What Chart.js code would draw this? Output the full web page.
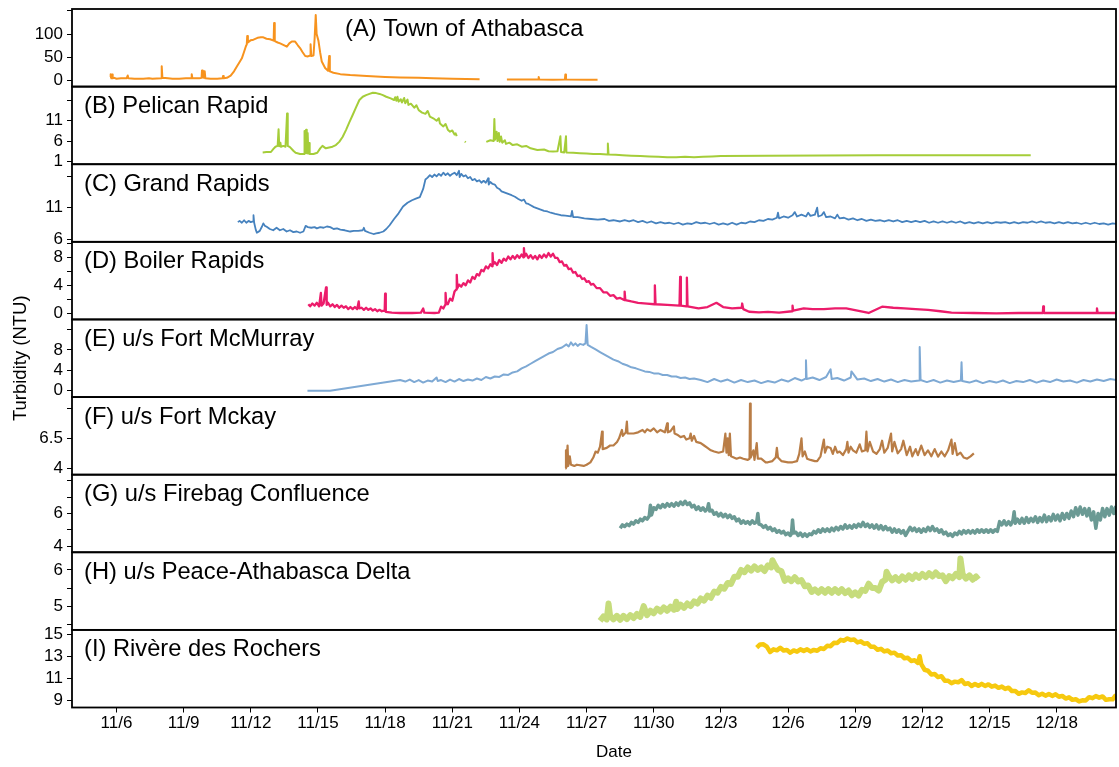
<!DOCTYPE html>
<html><head><meta charset="utf-8">
<script src="https://cdn.jsdelivr.net/npm/chart.js@4.4.1/dist/chart.umd.min.js"></script>
<style>html,body{margin:0;padding:0;background:#fff;}canvas{display:block;}</style>
</head><body>
<canvas id="c" width="1119" height="767"></canvas>
<script>
// x values: day counted from Oct 31 (Nov d = d, Dec d = 30 + d)
const dateTicks = [6,9,12,15,18,21,24,27,30,33,36,39,42,45,48];
const dateLabels = ['11/6','11/9','11/12','11/15','11/18','11/21','11/24','11/27','11/30','12/3','12/6','12/9','12/12','12/15','12/18'];

const panelNames = ['(A) Town of Athabasca','(B) Pelican Rapid','(C) Grand Rapids','(D) Boiler Rapids','(E) u/s Fort McMurray','(F) u/s Fort Mckay','(G) u/s Firebag Confluence','(H) u/s Peace-Athabasca Delta','(I) Rivère des Rochers'];

const ticksA = [0,50,100,150];   const labelsA = ['0','50','100',''];
const ticksB = [1,6,11,16];      const labelsB = ['1','6','11',''];
const ticksC = [6,11,16];        const labelsC = ['6','11',''];
const ticksD = [0,2,4,6,8,10];   const labelsD = ['0','','4','','8',''];
const ticksE = [0,4,8,12];       const labelsE = ['0','4','8',''];
const ticksF = [4,6.5,9];        const labelsF = ['4','6.5',''];
const ticksG = [4,5,6,7,8];      const labelsG = ['4','','6','',''];
const ticksH = [4.5,5,5.5,6];    const labelsH = ['','5','','6'];
const ticksI = [9,11,13,15];     const labelsI = ['9','11','13','15'];

const athabasca = [[5.71,8],[5.74,14],[5.77,5],[5.8,13],[5.83,5],[5.9,6],[6.0,4],[6.2,5],[6.45,5],[6.5,11],[6.53,5],[6.8,4],[7.2,4],[7.45,5],[7.6,4],[8.0,5],[8.02,31],[8.05,6],[8.3,5],[8.5,4],[8.8,4],[9.1,5],[9.34,5],[9.36,14],[9.39,5],[9.7,5],[9.8,6],[9.82,22],[9.85,7],[9.88,21],[9.91,6],[9.94,20],[9.97,5],[10.2,4],[10.5,4],[10.74,5],[10.76,10],[10.79,5],[10.93,6],[11.1,11],[11.25,20],[11.37,30],[11.5,40],[11.6,48],[11.7,62],[11.78,74],[11.82,78],[11.84,96],[11.87,82],[12.0,87],[12.12,88],[12.3,92],[12.45,93],[12.56,93],[12.7,90],[12.86,89],[13.02,86],[13.04,124],[13.07,85],[13.2,82],[13.31,80],[13.45,77],[13.61,73],[13.72,80],[13.83,84],[13.98,84],[14.1,76],[14.2,70],[14.3,62],[14.43,53],[14.55,52],[14.65,54],[14.67,78],[14.7,53],[14.8,54],[14.85,90],[14.9,141],[14.94,100],[15.02,86],[15.1,60],[15.17,41],[15.32,27],[15.45,21],[15.48,21],[15.5,53],[15.53,20],[15.69,17],[16.0,14],[16.44,12],[17.18,10],[18.0,8],[18.67,7],[19.5,6],[20.15,5],[21.0,4],[22.22,3],[22.5,null],[23.44,2.5],[24.0,2.5],[24.84,2.5],[24.86,8],[24.89,2.5],[25.5,2],[26.03,2.5],[26.05,13],[26.08,2.5],[27.0,2],[27.49,2]];

const pelican = [[12.53,3.2],[12.7,3.3],[12.9,3.3],[13.0,4.0],[13.1,4.6],[13.2,4.8],[13.24,8.9],[13.27,4.7],[13.32,5.6],[13.35,4.6],[13.45,4.8],[13.55,4.6],[13.62,12.8],[13.65,4.8],[13.75,4.5],[13.9,3.6],[14.0,3.1],[14.2,2.8],[14.38,2.8],[14.4,8.5],[14.43,3.0],[14.47,8.8],[14.5,3.0],[14.54,8.0],[14.57,2.9],[14.6,5.5],[14.63,2.8],[14.8,2.8],[14.97,3.1],[15.1,4.2],[15.2,4.8],[15.35,4.2],[15.5,4.4],[15.65,4.6],[15.8,5.0],[15.95,5.8],[16.1,7.0],[16.25,8.7],[16.4,10.6],[16.55,12.4],[16.7,14.3],[16.85,16.1],[17.0,16.9],[17.15,17.3],[17.3,17.6],[17.45,17.9],[17.6,17.8],[17.75,17.6],[17.9,17.3],[18.05,16.9],[18.25,16.5],[18.4,16.1],[18.45,16.8],[18.5,15.9],[18.55,16.9],[18.6,15.7],[18.7,16.3],[18.75,15.5],[18.85,16.6],[18.9,15.3],[19.0,16.2],[19.04,14.9],[19.15,15.2],[19.3,14.2],[19.4,14.8],[19.5,13.6],[19.65,13.0],[19.8,12.7],[19.9,13.4],[20.0,12.0],[20.15,11.6],[20.3,11.0],[20.4,11.6],[20.45,10.3],[20.6,9.6],[20.7,10.2],[20.8,8.8],[20.9,8.3],[21.0,8.6],[21.1,7.6],[21.15,7.9],[21.2,7.2],[21.3,null],[21.56,5.9],[21.6,5.7],[21.7,null],[22.52,5.8],[22.7,6.2],[22.85,6.0],[22.88,11.4],[22.91,6.3],[22.98,8.3],[23.02,6.0],[23.08,8.0],[23.12,5.8],[23.18,7.1],[23.23,5.6],[23.35,6.2],[23.4,5.3],[23.55,5.6],[23.7,5.0],[23.9,5.2],[24.1,4.6],[24.3,4.8],[24.5,4.2],[24.8,3.8],[25.1,3.9],[25.3,3.5],[25.5,3.4],[25.7,3.5],[25.83,7.2],[25.86,3.3],[26.0,3.2],[26.08,7.2],[26.1,3.2],[26.4,3.1],[26.7,3.0],[27.0,2.9],[27.3,2.8],[27.6,2.8],[27.93,2.7],[27.95,5.4],[27.98,2.7],[28.3,2.6],[28.6,2.5],[29.0,2.4],[29.4,2.3],[29.8,2.2],[30.2,2.1],[30.6,2.0],[31.0,2.0],[31.4,2.1],[31.8,2.0],[32.2,2.1],[32.6,2.2],[33.0,2.3],[35.0,2.4],[40.0,2.5],[46.84,2.5]];

const grandRapids = [[11.42,8.7],[11.5,8.9],[11.6,8.6],[11.7,9.0],[11.8,8.6],[11.9,8.9],[12.0,8.7],[12.1,8.8],[12.12,9.8],[12.15,8.6],[12.22,7.5],[12.27,7.0],[12.4,7.3],[12.5,8.0],[12.56,8.5],[12.63,8.1],[12.71,7.96],[12.85,7.6],[13.0,7.4],[13.15,7.8],[13.3,7.4],[13.45,7.6],[13.6,7.2],[13.75,7.4],[13.9,7.1],[14.05,7.2],[14.2,7.0],[14.35,7.2],[14.45,8.1],[14.55,7.9],[14.7,7.8],[14.85,7.9],[14.95,7.7],[15.1,7.9],[15.25,7.8],[15.4,8.0],[15.55,7.9],[15.7,7.6],[15.85,7.7],[16.0,7.5],[16.2,7.4],[16.44,7.2],[16.6,7.3],[16.8,7.3],[17.0,7.4],[17.05,7.8],[17.1,7.3],[17.3,7.0],[17.48,6.8],[17.6,6.9],[17.75,7.0],[17.92,7.2],[18.05,7.6],[18.2,8.2],[18.4,9.2],[18.6,10.1],[18.8,11.2],[19.0,11.8],[19.2,12.2],[19.4,12.5],[19.55,12.7],[19.7,14.0],[19.8,15.5],[19.9,15.8],[20.0,16.2],[20.1,15.9],[20.2,16.3],[20.3,16.0],[20.4,16.4],[20.5,16.1],[20.6,16.6],[20.7,16.2],[20.8,16.5],[20.9,16.1],[21.0,16.4],[21.1,16.6],[21.2,16.2],[21.3,16.9],[21.33,15.9],[21.4,16.4],[21.5,16.0],[21.6,16.2],[21.7,15.7],[21.8,15.9],[21.9,15.4],[22.0,15.6],[22.1,15.2],[22.2,15.4],[22.3,15.0],[22.4,15.3],[22.5,15.0],[22.6,15.7],[22.63,14.7],[22.7,15.1],[22.8,14.8],[22.9,14.7],[23.0,14.2],[23.1,14.0],[23.2,13.6],[23.35,13.4],[23.5,13.2],[23.65,13.0],[23.8,12.75],[23.95,12.4],[24.1,12.1],[24.2,12.3],[24.3,11.7],[24.4,11.6],[24.5,11.4],[24.65,11.1],[24.8,10.9],[24.95,10.7],[25.1,10.5],[25.25,10.4],[25.4,10.2],[25.6,10.0],[25.85,9.8],[26.05,9.75],[26.3,9.6],[26.35,10.5],[26.4,9.5],[26.6,9.5],[26.9,9.3],[27.2,9.2],[27.5,9.1],[27.8,9.2],[28.0,8.9],[28.2,9.0],[28.5,8.8],[28.7,9.0],[28.9,8.8],[29.1,9.0],[29.3,8.7],[29.5,8.9],[29.7,8.6],[29.9,8.8],[30.1,8.5],[30.3,8.7],[30.5,8.5],[30.7,8.6],[30.9,8.4],[31.1,8.6],[31.3,8.3],[31.5,8.5],[31.7,8.4],[31.9,8.7],[32.1,8.5],[32.3,8.6],[32.5,8.4],[32.7,8.6],[32.9,8.3],[33.1,8.5],[33.3,8.3],[33.5,8.6],[33.7,8.3],[33.9,8.6],[34.1,8.5],[34.3,8.8],[34.5,8.7],[34.7,9.0],[34.9,8.9],[35.1,9.2],[35.3,9.1],[35.5,9.4],[35.55,10.2],[35.6,9.3],[35.8,9.6],[36.0,9.4],[36.2,9.8],[36.3,10.3],[36.4,9.6],[36.6,9.9],[36.8,9.6],[36.9,10.2],[37.0,9.7],[37.2,9.9],[37.3,11.0],[37.35,9.6],[37.5,9.8],[37.6,10.3],[37.7,9.5],[37.9,9.6],[38.1,9.3],[38.2,9.9],[38.3,9.3],[38.5,9.4],[38.7,9.1],[38.9,9.3],[39.1,9.0],[39.3,9.2],[39.5,8.9],[39.7,9.1],[39.9,8.9],[40.1,9.0],[40.3,8.8],[40.5,9.0],[40.7,8.8],[40.9,9.0],[41.1,8.7],[41.3,8.9],[41.5,8.7],[41.7,8.9],[41.9,8.7],[42.1,8.9],[42.3,8.6],[42.5,8.8],[42.7,8.6],[42.9,8.8],[43.1,8.6],[43.3,8.8],[43.5,8.6],[43.7,8.8],[43.9,8.5],[44.1,8.7],[44.3,8.5],[44.5,8.7],[44.7,8.5],[44.9,8.7],[45.1,8.5],[45.3,8.7],[45.5,8.6],[45.7,8.7],[45.9,8.5],[46.1,8.7],[46.3,8.5],[46.5,8.7],[46.7,8.6],[46.9,8.8],[47.1,8.6],[47.3,8.8],[47.5,8.6],[47.7,8.7],[47.9,8.5],[48.1,8.7],[48.3,8.5],[48.5,8.7],[48.7,8.5],[48.9,8.6],[49.1,8.4],[49.3,8.6],[49.5,8.4],[49.7,8.6],[49.9,8.4],[50.1,8.5],[50.3,8.3],[50.5,8.5],[50.68,8.4]];

const boiler = [[14.57,1.3],[14.65,1.0],[14.75,1.4],[14.85,1.1],[14.95,1.5],[15.05,1.0],[15.13,2.9],[15.16,1.1],[15.25,1.4],[15.36,3.7],[15.39,1.2],[15.45,1.5],[15.55,1.0],[15.65,1.3],[15.75,0.9],[15.85,1.2],[15.95,0.8],[16.05,1.1],[16.15,0.8],[16.25,1.0],[16.35,0.6],[16.45,0.9],[16.55,0.6],[16.65,0.9],[16.75,0.6],[16.82,1.7],[16.85,0.7],[16.95,0.8],[17.05,0.5],[17.15,0.8],[17.25,0.5],[17.35,0.7],[17.45,0.4],[17.55,0.6],[17.65,0.3],[17.75,0.5],[17.85,0.3],[17.98,0.4],[18.0,2.8],[18.03,0.2],[18.3,0.1],[18.67,0.05],[19.2,0.05],[19.6,0.1],[19.7,0.7],[19.75,0.1],[20.2,0.05],[20.4,0.1],[20.5,0.95],[20.6,0.7],[20.68,1.2],[20.7,2.9],[20.73,1.5],[20.8,1.3],[20.9,2.1],[21.0,1.8],[21.1,3.1],[21.18,3.4],[21.2,5.5],[21.23,3.6],[21.3,4.1],[21.4,3.8],[21.5,4.3],[21.6,4.0],[21.7,4.7],[21.8,4.4],[21.9,5.2],[22.0,4.9],[22.1,5.6],[22.2,5.4],[22.3,6.2],[22.4,6.0],[22.5,6.7],[22.6,6.4],[22.7,7.0],[22.78,6.7],[22.8,8.6],[22.83,7.0],[22.9,7.3],[23.0,6.9],[23.1,7.6],[23.2,7.2],[23.3,7.8],[23.4,7.5],[23.5,8.1],[23.6,7.7],[23.7,8.2],[23.8,7.8],[23.9,8.3],[24.0,7.9],[24.1,8.4],[24.18,8.0],[24.2,9.3],[24.23,8.1],[24.3,8.5],[24.4,7.9],[24.5,8.3],[24.6,7.8],[24.7,8.2],[24.8,7.7],[24.9,8.3],[25.0,7.9],[25.1,8.4],[25.2,8.0],[25.3,8.6],[25.4,8.1],[25.5,8.5],[25.6,7.9],[25.7,7.9],[25.8,7.3],[25.9,7.4],[26.0,6.8],[26.1,6.9],[26.2,6.3],[26.3,6.4],[26.4,5.8],[26.5,5.9],[26.6,5.3],[26.7,5.4],[26.8,4.9],[26.9,5.0],[27.0,4.5],[27.1,4.6],[27.2,4.1],[27.3,4.2],[27.45,3.6],[27.6,3.6],[27.75,3.0],[27.9,3.0],[28.05,2.5],[28.2,2.6],[28.35,2.1],[28.5,2.2],[28.68,1.9],[28.7,3.1],[28.73,1.9],[29.0,1.7],[29.3,1.5],[29.7,1.4],[30.03,1.3],[30.05,4.0],[30.08,1.3],[30.6,1.2],[31.15,1.1],[31.18,5.2],[31.21,1.1],[31.45,1.0],[31.48,5.1],[31.51,1.0],[32.0,0.7],[32.4,0.9],[32.8,1.5],[33.1,0.9],[33.5,0.7],[33.93,0.8],[33.95,1.4],[34.0,0.6],[34.26,0.23],[34.7,0.15],[35.1,0.2],[35.6,0.1],[36.18,0.3],[36.2,1.1],[36.23,0.4],[36.7,0.7],[37.1,0.6],[37.6,0.6],[38.1,0.7],[38.6,0.7],[39.1,0.4],[39.6,0.05],[40.2,0.95],[40.7,0.8],[41.2,0.7],[41.7,0.6],[42.25,0.5],[42.8,0.3],[43.3,0.1],[44.3,0.05],[45.3,0.0],[46.3,0.05],[47.38,0.05],[47.4,1.0],[47.43,0.05],[48.5,0.05],[49.78,0.05],[49.8,0.7],[49.83,0.05],[50.68,0.05]];

const fortMcMurray = [[14.53,0],[15.54,0],[18.67,2.1],[18.9,1.8],[19.1,2.2],[19.3,1.7],[19.5,2.1],[19.7,1.6],[19.9,2.0],[20.1,1.8],[20.3,2.6],[20.35,1.9],[20.5,2.1],[20.7,1.7],[20.9,2.2],[21.1,1.8],[21.3,2.3],[21.5,1.9],[21.7,2.2],[21.9,2.0],[22.1,2.4],[22.3,2.1],[22.5,2.7],[22.7,2.4],[22.9,2.8],[23.1,2.7],[23.3,3.2],[23.5,3.1],[23.7,3.6],[23.9,3.8],[24.1,4.4],[24.3,4.8],[24.5,5.3],[24.7,5.8],[24.9,6.3],[25.1,6.8],[25.3,7.3],[25.5,7.6],[25.7,8.2],[25.9,8.5],[26.1,9.1],[26.2,8.7],[26.3,9.5],[26.4,8.9],[26.5,9.3],[26.6,8.8],[26.7,9.2],[26.85,9.0],[26.95,9.3],[27.0,12.9],[27.05,9.0],[27.2,8.6],[27.4,8.1],[27.6,7.6],[27.8,7.1],[28.0,6.6],[28.2,6.1],[28.4,5.8],[28.6,5.3],[28.8,5.0],[29.0,4.6],[29.2,4.4],[29.4,4.1],[29.6,3.8],[29.8,3.7],[30.0,3.4],[30.2,3.4],[30.4,3.1],[30.6,3.1],[30.8,2.8],[31.0,2.8],[31.2,2.5],[31.4,2.6],[31.6,2.3],[31.8,2.4],[32.1,2.1],[32.4,1.7],[32.7,2.3],[33.0,1.8],[33.3,2.2],[33.6,1.6],[33.9,2.1],[34.2,1.7],[34.5,2.0],[34.8,1.5],[35.1,1.9],[35.4,1.6],[35.7,2.2],[36.0,1.8],[36.3,2.5],[36.6,2.0],[36.78,2.4],[36.8,6.0],[36.83,2.3],[37.1,2.6],[37.4,2.1],[37.7,2.7],[37.9,4.2],[37.95,2.3],[38.2,2.5],[38.5,2.0],[38.8,2.6],[38.83,3.8],[39.1,2.2],[39.4,2.4],[39.7,1.9],[40.0,2.3],[40.3,1.8],[40.6,2.2],[40.9,1.7],[41.2,2.1],[41.5,1.8],[41.85,2.0],[41.88,8.6],[41.92,2.1],[42.2,1.7],[42.5,2.1],[42.8,1.6],[43.1,2.0],[43.4,1.7],[43.72,2.0],[43.75,5.6],[43.78,1.9],[44.1,1.6],[44.4,2.0],[44.7,1.5],[45.0,1.9],[45.3,1.6],[45.6,2.0],[45.9,1.5],[46.2,1.9],[46.5,1.7],[46.8,2.1],[47.1,1.6],[47.4,2.0],[47.7,1.7],[48.0,2.2],[48.3,1.8],[48.6,2.0],[48.9,1.6],[49.2,2.1],[49.5,1.8],[49.8,2.2],[50.1,1.9],[50.4,2.3],[50.68,2.1]];

const fortMckay = [[26.05,4.0],[26.08,5.5],[26.1,4.1],[26.15,5.9],[26.18,4.2],[26.25,5.0],[26.3,4.3],[26.45,4.2],[26.57,4.3],[26.87,4.2],[27.0,4.3],[27.17,4.5],[27.3,4.9],[27.4,5.4],[27.5,5.3],[27.6,5.8],[27.69,7.05],[27.72,5.6],[27.9,5.7],[28.05,5.9],[28.2,5.9],[28.36,6.2],[28.45,6.5],[28.58,7.2],[28.62,6.7],[28.75,7.0],[28.8,7.9],[28.83,6.9],[29.0,6.9],[29.1,6.9],[29.3,7.0],[29.5,7.2],[29.6,7.0],[29.7,7.25],[29.85,7.1],[30.0,7.33],[30.15,7.0],[30.3,7.2],[30.5,7.0],[30.6,7.75],[30.63,7.0],[30.75,7.1],[30.9,7.5],[30.93,6.9],[31.05,6.8],[31.2,6.6],[31.35,6.7],[31.45,6.4],[31.6,6.5],[31.65,6.9],[31.7,6.3],[31.8,6.7],[31.9,6.2],[32.1,6.1],[32.25,5.9],[32.4,5.7],[32.55,5.5],[32.7,5.4],[32.9,5.3],[33.1,5.4],[33.2,6.9],[33.25,5.3],[33.3,6.5],[33.35,5.1],[33.4,6.9],[33.45,5.0],[33.7,4.8],[33.85,4.9],[34.0,4.8],[34.2,4.7],[34.28,4.8],[34.3,9.4],[34.33,4.9],[34.45,5.5],[34.5,4.7],[34.6,6.1],[34.65,4.8],[34.8,4.8],[35.0,4.5],[35.1,4.5],[35.3,4.6],[35.45,4.9],[35.5,5.7],[35.55,4.9],[35.7,4.6],[36.0,4.5],[36.2,4.5],[36.4,4.6],[36.5,5.2],[36.6,6.5],[36.65,5.0],[36.75,5.4],[36.85,4.8],[37.0,4.7],[37.2,4.6],[37.3,4.6],[37.45,5.0],[37.6,6.4],[37.65,5.3],[37.75,5.8],[37.9,5.7],[38.0,5.2],[38.1,5.8],[38.2,5.3],[38.3,5.4],[38.45,5.1],[38.6,5.6],[38.65,6.2],[38.7,5.3],[38.8,5.8],[38.9,5.5],[39.05,5.3],[39.2,6.0],[39.3,5.4],[39.45,5.5],[39.5,7.05],[39.55,5.4],[39.65,6.2],[39.8,5.4],[39.95,5.2],[40.1,5.6],[40.2,6.3],[40.3,5.3],[40.45,5.7],[40.6,6.9],[40.65,5.4],[40.75,6.2],[40.9,5.25],[41.05,5.6],[41.15,6.3],[41.3,5.1],[41.45,5.8],[41.55,5.0],[41.7,5.6],[41.8,5.1],[41.95,5.9],[42.1,5.1],[42.25,5.5],[42.4,5.0],[42.55,5.6],[42.7,4.97],[42.85,5.4],[43.0,5.0],[43.15,5.5],[43.3,6.4],[43.35,5.2],[43.45,6.1],[43.55,5.1],[43.7,5.3],[43.85,4.9],[44.0,4.8],[44.15,5.0],[44.3,5.25]];

const firebag = [[28.5,5.1],[28.6,5.3],[28.7,5.2],[28.8,5.35],[28.9,5.25],[29.0,5.45],[29.1,5.35],[29.2,5.55],[29.3,5.45],[29.4,5.65],[29.5,5.55],[29.6,5.75],[29.7,5.65],[29.8,5.85],[29.85,6.5],[29.9,5.9],[30.0,6.35],[30.1,6.25],[30.2,6.5],[30.3,6.35],[30.4,6.55],[30.5,6.4],[30.6,6.6],[30.7,6.45],[30.8,6.6],[30.9,6.45],[31.0,6.65],[31.1,6.5],[31.2,6.7],[31.3,6.55],[31.4,6.75],[31.5,6.55],[31.6,6.65],[31.7,6.4],[31.8,6.5],[31.9,6.25],[32.0,6.4],[32.1,6.2],[32.2,6.35],[32.3,6.15],[32.4,6.3],[32.45,6.6],[32.5,6.15],[32.6,6.2],[32.7,5.95],[32.8,6.05],[32.9,5.85],[33.0,6.0],[33.1,5.8],[33.2,5.95],[33.3,5.75],[33.4,5.9],[33.5,5.7],[33.6,5.8],[33.7,5.55],[33.8,5.65],[33.9,5.4],[34.0,5.55],[34.1,5.4],[34.2,5.5],[34.3,5.35],[34.4,5.55],[34.5,5.4],[34.6,5.5],[34.65,6.0],[34.7,5.35],[34.8,5.3],[34.9,5.15],[35.0,5.25],[35.1,5.05],[35.2,5.15],[35.3,4.95],[35.4,5.05],[35.5,4.85],[35.6,4.95],[35.7,4.8],[35.8,4.9],[35.9,4.7],[36.0,4.8],[36.1,4.65],[36.15,4.75],[36.2,5.6],[36.25,4.8],[36.35,4.85],[36.45,4.65],[36.55,4.8],[36.65,4.6],[36.75,4.75],[36.85,4.6],[36.95,4.75],[37.05,4.7],[37.15,4.9],[37.25,4.8],[37.35,5.0],[37.45,4.85],[37.55,5.05],[37.65,4.9],[37.75,5.05],[37.85,4.9],[37.95,5.1],[38.05,4.95],[38.15,5.15],[38.25,5.0],[38.35,5.2],[38.45,5.05],[38.55,5.3],[38.65,5.1],[38.75,5.25],[38.85,5.1],[38.95,5.3],[39.05,5.15],[39.15,5.35],[39.25,5.2],[39.35,5.45],[39.45,5.2],[39.55,5.35],[39.65,5.15],[39.75,5.3],[39.85,5.1],[39.95,5.3],[40.05,5.05],[40.15,5.25],[40.25,5.0],[40.35,5.2],[40.45,5.0],[40.55,5.1],[40.65,4.85],[40.75,5.05],[40.85,4.85],[40.95,5.0],[41.05,4.8],[41.15,4.95],[41.25,4.65],[41.35,4.9],[41.45,5.15],[41.55,4.95],[41.65,5.1],[41.75,4.9],[41.85,5.05],[41.95,4.85],[42.05,5.05],[42.15,4.9],[42.25,5.15],[42.35,4.95],[42.45,5.2],[42.55,4.95],[42.65,5.05],[42.75,4.85],[42.85,5.0],[42.95,4.75],[43.05,4.85],[43.15,4.65],[43.25,4.75],[43.35,4.6],[43.45,4.8],[43.55,4.7],[43.65,4.9],[43.75,4.75],[43.85,4.95],[43.95,4.8],[44.05,4.95],[44.15,4.8],[44.25,4.95],[44.35,4.8],[44.45,5.0],[44.55,4.85],[44.65,5.0],[44.75,4.85],[44.85,5.0],[44.95,4.85],[45.05,5.0],[45.15,4.85],[45.25,5.0],[45.35,4.9],[45.45,5.5],[45.55,5.3],[45.65,5.55],[45.75,5.3],[45.85,5.5],[45.95,5.3],[46.05,5.6],[46.1,6.1],[46.15,5.4],[46.25,5.65],[46.35,5.4],[46.45,5.7],[46.55,5.4],[46.65,5.75],[46.75,5.45],[46.85,5.7],[46.95,5.5],[47.05,5.8],[47.15,5.45],[47.25,5.75],[47.35,5.5],[47.45,5.9],[47.55,5.5],[47.65,5.8],[47.75,5.55],[47.85,5.95],[47.95,5.6],[48.05,5.9],[48.15,5.55],[48.25,6.0],[48.35,5.65],[48.45,6.0],[48.55,5.7],[48.65,6.15],[48.75,5.8],[48.85,6.35],[48.95,5.9],[49.05,6.4],[49.15,5.95],[49.25,6.3],[49.35,5.85],[49.45,6.3],[49.55,5.6],[49.65,6.1],[49.75,5.1],[49.85,6.0],[49.95,5.6],[50.05,6.3],[50.15,5.8],[50.25,6.3],[50.35,5.9],[50.45,6.4],[50.55,6.0],[50.65,6.45]];

const peaceAthabasca = [[27.6,4.59],[27.75,4.71],[27.9,4.63],[27.98,5.07],[28.05,4.73],[28.2,4.63],[28.35,4.73],[28.5,4.62],[28.65,4.73],[28.8,4.64],[28.95,4.75],[29.1,4.67],[29.25,4.78],[29.4,4.70],[29.55,5.0],[29.7,4.75],[29.85,4.87],[30.0,4.80],[30.15,4.93],[30.3,4.85],[30.45,4.96],[30.6,4.87],[30.75,4.98],[30.9,4.90],[31.0,5.12],[31.05,4.92],[31.2,5.04],[31.35,4.95],[31.5,5.07],[31.65,5.00],[31.8,5.13],[31.95,5.07],[32.1,5.21],[32.25,5.15],[32.4,5.29],[32.55,5.23],[32.7,5.40],[32.85,5.37],[33.0,5.53],[33.15,5.48],[33.3,5.64],[33.45,5.61],[33.6,5.81],[33.75,5.81],[33.9,6.00],[34.05,5.94],[34.2,6.07],[34.35,5.98],[34.5,6.10],[34.65,6.00],[34.8,6.07],[34.95,5.97],[35.1,6.13],[35.25,6.07],[35.3,6.27],[35.4,6.15],[35.55,6.00],[35.7,5.97],[35.85,5.70],[36.0,5.77],[36.15,5.69],[36.3,5.80],[36.45,5.68],[36.6,5.72],[36.75,5.55],[36.9,5.57],[37.05,5.39],[37.2,5.46],[37.35,5.37],[37.5,5.47],[37.65,5.37],[37.8,5.47],[37.95,5.37],[38.1,5.47],[38.25,5.37],[38.4,5.47],[38.55,5.36],[38.7,5.43],[38.85,5.30],[39.0,5.38],[39.15,5.29],[39.3,5.45],[39.45,5.42],[39.6,5.62],[39.75,5.50],[39.9,5.50],[40.05,5.43],[40.2,5.67],[40.35,5.73],[40.4,5.95],[40.5,5.83],[40.65,5.71],[40.8,5.80],[40.95,5.70],[41.1,5.82],[41.25,5.73],[41.4,5.85],[41.55,5.75],[41.7,5.87],[41.85,5.78],[42.0,5.89],[42.15,5.80],[42.3,5.91],[42.45,5.82],[42.6,5.93],[42.75,5.83],[42.9,5.85],[43.05,5.69],[43.2,5.83],[43.35,5.77],[43.5,5.89],[43.65,5.80],[43.7,6.32],[43.8,5.88],[43.95,5.76],[44.1,5.85],[44.25,5.73],[44.4,5.82],[44.5,5.74]];

const rochers = [[34.6,13.79],[34.75,14.08],[34.9,14.09],[35.05,13.88],[35.2,13.39],[35.35,13.63],[35.5,13.54],[35.65,13.78],[35.8,13.52],[35.95,13.58],[36.1,13.32],[36.25,13.53],[36.4,13.42],[36.55,13.63],[36.7,13.49],[36.85,13.63],[37.0,13.44],[37.15,13.58],[37.3,13.5],[37.45,13.73],[37.6,13.67],[37.75,13.96],[37.9,13.92],[38.05,14.23],[38.2,14.22],[38.35,14.5],[38.5,14.42],[38.65,14.63],[38.8,14.49],[38.95,14.53],[39.1,14.27],[39.25,14.36],[39.4,14.14],[39.55,14.18],[39.7,13.87],[39.85,13.86],[40.0,13.6],[40.15,13.68],[40.3,13.44],[40.45,13.53],[40.6,13.27],[40.75,13.33],[40.9,13.07],[41.05,13.1],[41.2,12.82],[41.35,12.86],[41.5,12.57],[41.65,12.63],[41.8,12.4],[41.88,13.0],[41.95,12.28],[42.1,11.77],[42.25,11.68],[42.4,11.34],[42.55,11.38],[42.7,11.1],[42.85,11.18],[43.0,10.77],[43.15,10.76],[43.3,10.54],[43.45,10.68],[43.6,10.62],[43.75,10.83],[43.9,10.47],[44.05,10.53],[44.2,10.29],[44.35,10.46],[44.5,10.3],[44.65,10.48],[44.8,10.29],[44.95,10.43],[45.1,10.22],[45.25,10.32],[45.4,10.12],[45.55,10.23],[45.7,10.02],[45.85,10.13],[46.0,9.82],[46.15,9.83],[46.3,9.57],[46.45,9.7],[46.6,9.64],[46.75,9.9],[46.9,9.67],[47.05,9.68],[47.2,9.44],[47.35,9.58],[47.5,9.4],[47.65,9.55],[47.8,9.38],[47.95,9.53],[48.1,9.3],[48.25,9.38],[48.4,9.14],[48.55,9.25],[48.7,9.02],[48.85,9.08],[49.0,8.87],[49.15,8.98],[49.3,8.97],[49.45,9.26],[49.6,9.17],[49.75,9.36],[49.9,9.22],[50.05,9.33],[50.2,9.02],[50.35,9.08],[50.5,9.07],[50.65,9.48]];

const FONT = '"Liberation Sans", Arial, Helvetica, sans-serif';
Chart.defaults.font.family = FONT;
Chart.defaults.color = '#000';

const panels = [
  {id:'yA', data:athabasca,      color:'#F7931E', width:2,   min:-12.8, max:153.9, ticks:ticksA, labels:labelsA},
  {id:'yB', data:pelican,        color:'#A5CD39', width:2,   min:0.29,  max:19.4,  ticks:ticksB, labels:labelsB},
  {id:'yC', data:grandRapids,    color:'#4682BE', width:1.8, min:5.55,  max:17.95, ticks:ticksC, labels:labelsC},
  {id:'yD', data:boiler,         color:'#EC1C6B', width:2.3, min:-0.87, max:10.2,  ticks:ticksD, labels:labelsD},
  {id:'yE', data:fortMcMurray,   color:'#7EA9D4', width:2,   min:-1.24, max:14.0,  ticks:ticksE, labels:labelsE},
  {id:'yF', data:fortMckay,      color:'#B97D46', width:2.2, min:3.47,  max:9.94,  ticks:ticksF, labels:labelsF},
  {id:'yG', data:firebag,        color:'#6B9A94', width:3.5, min:3.62,  max:8.38,  ticks:ticksG, labels:labelsG},
  {id:'yH', data:peaceAthabasca, color:'#C6DC7C', width:6,   min:4.34,  max:6.49,  ticks:ticksH, labels:labelsH},
  {id:'yI', data:rochers,        color:'#F6C90F', width:4.5, min:8.32,  max:15.41, ticks:ticksI, labels:labelsI}
];

const scales = {
  x: {
    type:'linear', position:'bottom', min:4.012, max:50.65,
    afterBuildTicks: s => { s.ticks = dateTicks.map(v => ({value:v})); },
    ticks: { autoSkip:false, maxRotation:0, padding:1, font:{size:17}, color:'#000', callback:(v,i) => dateLabels[i] },
    grid: { drawOnChartArea:false, drawTicks:true, tickLength:5, color:'#000', lineWidth:1 },
    border: { display:false },
    title: { display:false },
    afterFit: s => { s.height = 59.5; s.paddingLeft = 0; s.paddingRight = 0; }
  }
};
panels.forEach((p, i) => {
  scales[p.id] = {
    type:'linear', position:'left', stack:'panels', stackWeight:1, weight: panels.length - i,
    min:p.min, max:p.max,
    afterBuildTicks: s => { s.ticks = p.ticks.map(v => ({value:v})); },
    ticks: { autoSkip:false, padding:4, font:{size:17}, color:'#000', callback:(v,idx) => p.labels[idx] },
    grid: { drawOnChartArea:false, drawTicks:true, tickLength:5, color:'#000', lineWidth:1 },
    border: { display:false },
    title: p.id === 'yE' ? { display:true, text:'Turbidity (NTU)', font:{size:18.5}, color:'#000', padding:{top:10, bottom:0} } : { display:false },
    afterFit: s => { s.width = 72; s.paddingTop = 0; s.paddingBottom = 0; }
  };
});

const panelPlugin = {
  id:'panelFrames',
  afterDatasetsDraw(chart) {
    const ctx = chart.ctx, area = chart.chartArea;
    ctx.save();
    ctx.strokeStyle = '#000';
    ctx.lineWidth = 1.8;
    panels.forEach(p => {
      const s = chart.scales[p.id];
      ctx.strokeRect(area.left, s.top, area.right - area.left, s.bottom - s.top);
    });
    ctx.fillStyle = '#000';
    ctx.font = '23.7px ' + FONT;
    ctx.textBaseline = 'middle';
    ctx.textAlign = 'left';
    panels.forEach((p, i) => {
      const s = chart.scales[p.id];
      ctx.fillText(panelNames[i], area.left + (i === 0 ? 273 : 12), s.top + 20);
    });
    ctx.font = '17px ' + FONT;
    ctx.textAlign = 'center';
    ctx.fillText('Date', (area.left + area.right) / 2 + 20, 752);
    ctx.restore();
  }
};

new Chart(document.getElementById('c'), {
  type:'line',
  data: {
    datasets: panels.map((p, i) => ({
      label: panelNames[i],
      data: p.data.map(d => ({x:d[0], y:d[1]})),
      yAxisID: p.id, xAxisID:'x',
      borderColor: p.color, backgroundColor: p.color,
      borderWidth: p.width, pointRadius:0, tension:0, spanGaps:false,
      borderJoinStyle:'round', fill:false
    }))
  },
  options: {
    responsive:false, animation:false,
    layout: { padding: { left:0, right:3, top:9, bottom:0 } },
    plugins: { legend:{display:false}, tooltip:{enabled:false}, title:{display:false} },
    scales
  },
  plugins:[panelPlugin]
});
</script>
</body></html>
